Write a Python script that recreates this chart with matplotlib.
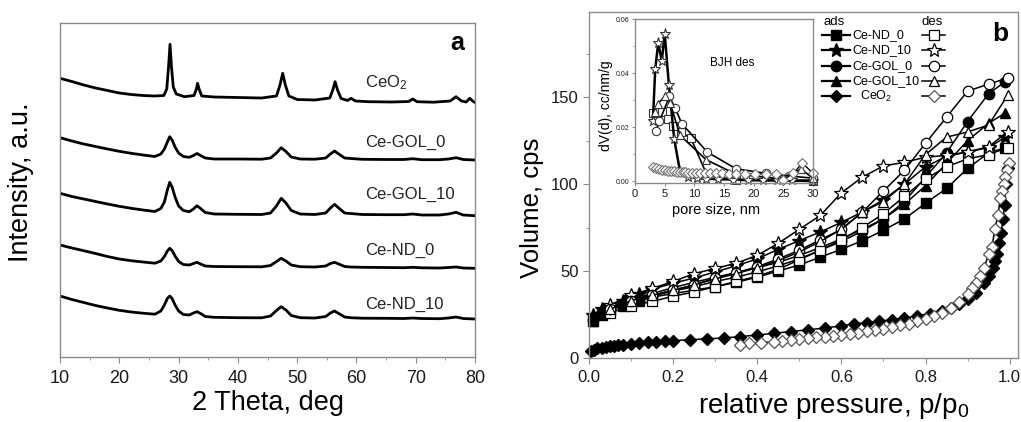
import numpy as np
import matplotlib
matplotlib.use("Agg")
import matplotlib.pyplot as plt
from matplotlib.ticker import MultipleLocator, FormatStrFormatter

plt.rcParams['font.family'] = ['Liberation Sans', 'DejaVu Sans']
plt.rcParams['mathtext.fontset'] = 'custom'
plt.rcParams['mathtext.rm'] = 'Liberation Sans'
plt.rcParams['mathtext.it'] = 'Liberation Sans:italic'

# ---------------- panel a: XRD patterns (offset, arbitrary units) ----------------
two_theta_ceo2 = [10, 12, 14, 16, 18, 20, 22, 24, 26, 27.5, 28.0, 28.3, 28.55, 28.8, 29.1, 29.6,
                  31, 32.6, 33.0, 33.2, 33.45, 33.9, 36, 40, 44, 46.5, 47.1, 47.55, 48.0, 48.6,
                  50, 53, 55.5, 56.0, 56.4, 56.8, 57.4, 58.5, 59.1, 59.8, 62, 66, 68.8, 69.5,
                  70.2, 73, 75.8, 76.8, 77.7, 78.5, 79.1, 79.7, 80]
int_ceo2 = [278.7, 275.5, 272, 269, 266.5, 264, 262.5, 261.5, 261, 261.5, 268, 290, 312.7, 290,
            270, 263, 260.3, 261.5, 268, 273.7, 268, 261, 260, 259.5, 259, 261, 272, 283.7, 272,
            261, 257.5, 257, 259, 267, 275.3, 267, 258.5, 256.5, 258.7, 256, 255.3, 255, 255.5,
            258, 255.3, 254.8, 256, 260.3, 256, 255, 258.7, 255.5, 254.5]

two_theta = [10, 12, 14, 16, 18, 20, 22, 24, 26, 27, 27.6, 28.1, 28.5, 28.9, 29.4, 30, 30.8,
             31.8, 32.5, 33.1, 33.7, 34.5, 36, 40, 44, 45.5, 46.5, 47.3, 48.1, 49, 50.5, 53,
             54.8, 55.6, 56.3, 57, 58, 59, 61, 65, 68, 69.5, 71, 74, 75.5, 76.8, 78, 80]
int_gol_0 = [219.3, 216, 213, 210.5, 208, 205.7, 203.7, 202, 200.5, 203, 208, 215, 220.3, 217,
             210, 204, 200.5, 199.7, 201.5, 203.5, 201.5, 199, 198, 198, 197.8, 199, 204, 209.3,
             205.5, 200, 198, 197.8, 199, 203, 206, 203, 199, 198.5, 197.7, 197.5, 197.5, 198.3,
             197.3, 197.3, 198, 199.3, 197.5, 197]
int_gol_10 = [163.7, 160.5, 158, 155.5, 153, 150.7, 148.7, 147, 145.5, 148.5, 155, 167, 174.7,
              170, 160, 151, 146.5, 145.3, 148, 151.3, 148.5, 144.5, 143, 142.7, 142.5, 144, 151,
              158.7, 154, 146.5, 143, 142.5, 144, 149, 152.7, 149, 144, 143.5, 142.5, 142.3,
              142.3, 143, 142, 142, 143, 144.7, 142, 141.3]
int_nd_0 = [112, 109, 106.3, 103.5, 100.5, 98, 96.3, 95, 93.8, 96, 100.5, 106, 108.7, 106.5, 101,
            95.5, 92.5, 92, 93.5, 94.7, 93, 91, 90.5, 90.3, 90.2, 91.5, 95.5, 98.7, 96, 92, 90.3,
            90, 91, 93.5, 94.7, 93, 90.5, 90, 89.7, 89.5, 89.3, 89.7, 89.2, 89, 89.5, 90, 89, 88.7]
int_nd_10 = [61, 57.5, 54.5, 51.5, 49, 46.7, 45, 43.8, 42.8, 46, 52, 58.5, 61, 58.5, 52, 46,
             42.5, 42, 44, 45.3, 43.5, 40.5, 39.7, 39.3, 39.2, 41, 46.5, 50.3, 47, 41.5, 39.3, 39,
             40.5, 44, 46, 43.5, 40, 39.3, 38.8, 38.7, 38.5, 39, 38.5, 38.3, 39, 40, 38.5, 38]

xrd_names = ['CeO$_2$', 'Ce-GOL_0', 'Ce-GOL_10', 'Ce-ND_0', 'Ce-ND_10']
xrd_label_y = [274, 214.3, 162.7, 107, 53]

# ---------------- panel b: N2 isotherms ----------------
p_ads = [0.01, 0.03, 0.05, 0.08, 0.1, 0.12, 0.15, 0.2, 0.25, 0.3, 0.35, 0.4, 0.45, 0.5, 0.55,
         0.6, 0.65, 0.7, 0.75, 0.8, 0.85, 0.9, 0.95, 0.99]
p_des = [0.995, 0.95, 0.9, 0.85, 0.8, 0.75, 0.7, 0.65, 0.6, 0.55, 0.5, 0.45, 0.4, 0.35, 0.3,
         0.25, 0.2, 0.15, 0.1, 0.05]

nd_0_ads = [21, 25, 27.5, 30, 31.5, 33, 35, 37, 39, 41, 43.5, 46.5, 50, 53.5, 58, 62.5, 67.5,
            73.5, 80, 89, 97.5, 109, 118, 121]
nd_0_des = [121, 117, 114.5, 110, 103, 93, 83, 75, 68, 62, 56.5, 51, 47, 44, 41, 38, 35.5, 32.5,
            30, 26]
nd_10_ads = [25, 28, 30, 33, 35, 37, 39.5, 43, 46, 49.5, 53, 57, 62.5, 67.5, 72.5, 78, 84, 91,
             100, 110, 116, 118.5, 121, 127]
nd_10_des = [130, 121.5, 118.5, 116.5, 115.5, 112.5, 110.5, 104, 95, 82, 74, 66, 59, 54.5, 51.5,
             48.5, 44, 40, 36, 30.5]
gol_0_ads = [22, 26, 28, 30.5, 32, 33.5, 35.5, 38.5, 41, 44, 46.5, 49.5, 53, 57, 62, 67, 73, 80,
             90, 104, 118, 136, 152, 159]
gol_0_des = [161, 157.5, 153.5, 138.5, 123.5, 108, 96, 84, 74, 68, 62, 57, 52.5, 49, 46, 42, 39,
             36, 33, 28]
gol_10_ads = [21, 25.5, 29, 31.5, 33, 35, 37, 40.5, 43.5, 46.5, 49, 52, 55, 59, 63.5, 68.5, 74,
              80, 88.5, 99, 112, 125, 135, 141]
gol_10_des = [151, 134, 130, 127, 117, 100, 90, 84, 74, 67, 61, 56, 52, 48.5, 45.5, 42, 39, 36,
              33, 28]

p_ceo2_ads = [0.005, 0.012, 0.02, 0.03, 0.04, 0.05, 0.06, 0.07, 0.08, 0.1, 0.12, 0.14, 0.16,
              0.18, 0.2, 0.24, 0.28, 0.32, 0.36, 0.4, 0.44, 0.48, 0.52, 0.56, 0.6, 0.63, 0.66,
              0.69, 0.72, 0.75, 0.78, 0.81, 0.84, 0.86, 0.88, 0.9, 0.92, 0.94, 0.95, 0.96, 0.965,
              0.97, 0.975, 0.98, 0.984, 0.988, 0.991, 0.995]
ceo2_ads = [4, 4.8, 5.5, 6, 6.5, 6.8, 7.1, 7.4, 7.6, 8.2, 8.6, 9, 9.4, 9.7, 10, 10.5, 11, 11.5,
            12.3, 13.2, 14.2, 15.2, 16.2, 17.2, 18.5, 19.6, 20.4, 21.2, 22, 23, 24.2, 25.5, 27,
            28.5, 31, 34, 37.5, 43, 47, 52, 56, 60, 66, 72, 80, 88, 100, 109]
p_ceo2_des = [0.998, 0.994, 0.99, 0.986, 0.982, 0.978, 0.972, 0.965, 0.958, 0.95, 0.94, 0.93,
              0.92, 0.91, 0.9, 0.88, 0.86, 0.84, 0.82, 0.8, 0.78, 0.76, 0.74, 0.72, 0.7, 0.68,
              0.66, 0.64, 0.62, 0.6, 0.58, 0.56, 0.54, 0.52, 0.5, 0.48, 0.46, 0.44, 0.41, 0.38,
              0.36]
ceo2_des = [112, 108, 104, 100, 96, 92, 82, 74, 64, 60, 52, 47, 43, 40, 37, 32, 28.5, 26, 24,
            22.5, 21, 19.8, 18.8, 17.8, 16.8, 16, 15.3, 14.6, 14, 13.4, 12.8, 12.3, 11.8, 11.3,
            10.8, 10.3, 9.8, 9.3, 8.8, 8.5, 7.6]

# ---------------- inset: BJH desorption pore size distribution ----------------
d_nd_0 = [3.1, 3.8, 4.5, 5.6, 6.4, 7.7, 9.4, 12.1, 17.1, 30]
psd_nd_0 = [0.0253, 0.0255, 0.0255, 0.0232, 0.0203, 0.0182, 0.016, 0.0025, 0.0004, 0.0]
d_nd_10 = [3.0, 3.4, 3.9, 4.5, 5.0, 5.7, 6.6, 7.6, 9.0, 10.5, 12.0, 14.0, 16.5, 19.0, 21.5,
           24.0, 26.5, 30]
psd_nd_10 = [0.0222, 0.0415, 0.0511, 0.0446, 0.0546, 0.0357, 0.0156, 0.0035, 0.0018, 0.0012,
             0.001, 0.0008, 0.0007, 0.0006, 0.0005, 0.0005, 0.0004, 0.0003]
d_gol_0 = [3.5, 4.1, 5.8, 6.7, 7.9, 12.2, 17.0, 22, 26, 30]
psd_gol_0 = [0.0185, 0.0222, 0.0314, 0.0273, 0.0213, 0.0108, 0.0047, 0.003, 0.002, 0.0012]
d_gol_10 = [3.3, 3.8, 5.0, 5.9, 7.6, 12.0, 17.0, 24.4, 28.0, 30]
psd_gol_10 = [0.0255, 0.0286, 0.0314, 0.029, 0.017, 0.008, 0.0027, 0.001, 0.0045, 0.0012]
d_ceo2 = [3.0, 3.5, 4.0, 4.5, 5.0, 5.5, 6.0, 6.5, 7.0, 7.5, 8.0, 8.5, 9.0, 9.6, 10.3, 11.0, 11.8,
          12.6, 13.6, 14.6, 15.8, 17.1, 18.6, 20.2, 22.0, 23.8, 25.0, 26.7, 28.2, 30]
psd_ceo2 = [0.0053, 0.0048, 0.0045, 0.0043, 0.0041, 0.004, 0.0038, 0.0037, 0.0036, 0.0035,
            0.0034, 0.0034, 0.0033, 0.0033, 0.0032, 0.0032, 0.0031, 0.0031, 0.003, 0.003, 0.0029,
            0.0029, 0.0028, 0.0028, 0.0027, 0.0026, 0.0006, 0.003, 0.0068, 0.003]

legend_names = ['Ce-ND_0', 'Ce-ND_10', 'Ce-GOL_0', 'Ce-GOL_10', 'CeO$_2$']
markers = ['s', '*', 'o', '^', 'D']
msizes = [7, 10, 7.5, 7.5, 6.5]

SPINE = '#8a8a8a'


def style_axes(ax, fs):
    for s in ax.spines.values():
        s.set_color(SPINE)
        s.set_linewidth(1.0)
    ax.tick_params(which='both', direction='out', color=SPINE, labelsize=fs, labelcolor='#1a1a1a')
    ax.tick_params(which='major', length=4)
    ax.tick_params(which='minor', length=2.5)


fig = plt.figure(figsize=(10.21, 4.22), dpi=100)

# ---- panel a ----
ax_a = fig.add_axes([0.0588, 0.154, 0.4065, 0.7915])
ax_a.plot(two_theta_ceo2, int_ceo2, color='k', lw=2.0)
for yy in [int_gol_0, int_gol_10, int_nd_0, int_nd_10]:
    ax_a.plot(two_theta, yy, color='k', lw=2.0)
for name, ly in zip(xrd_names, xrd_label_y):
    ax_a.text(61.5, ly, name, fontsize=12, ha='left', va='center', color='#222222')
ax_a.text(0.956, 0.94, 'a', transform=ax_a.transAxes, fontsize=18, fontweight='bold',
          ha='center', va='center')
ax_a.set_xlim(10, 80)
ax_a.set_ylim(0, 334)
ax_a.set_yticks([])
ax_a.xaxis.set_major_locator(MultipleLocator(10))
ax_a.xaxis.set_minor_locator(MultipleLocator(5))
style_axes(ax_a, 13)
ax_a.tick_params(axis='x', pad=5)
ax_a.set_xlabel('2 Theta, deg', fontsize=19.5)
ax_a.xaxis.set_label_coords(0.5, -0.1)
ax_a.set_ylabel('Intensity, a.u.', fontsize=19.5)
ax_a.yaxis.set_label_coords(-0.063, 0.522)

# ---- panel b ----
ax_b = fig.add_axes([0.5769, 0.1517, 0.4202, 0.8199])
ads_sets = [(p_ads, nd_0_ads), (p_ads, nd_10_ads), (p_ads, gol_0_ads), (p_ads, gol_10_ads),
            (p_ceo2_ads, ceo2_ads)]
des_sets = [(p_des, nd_0_des), (p_des, nd_10_des), (p_des, gol_0_des), (p_des, gol_10_des),
            (p_ceo2_des, ceo2_des)]
for (xx, yy), m, ms in zip(ads_sets, markers, msizes):
    ax_b.plot(xx, yy, color='k', lw=1.1, marker=m, ms=ms, mfc='k', mec='k', clip_on=False)
for i, ((xx, yy), m, ms) in enumerate(zip(des_sets, markers, msizes)):
    ec = '#555555' if i == 4 else 'k'
    ax_b.plot(xx, yy, color='k', lw=1.1, marker=m, ms=ms, mfc='white', mec=ec, mew=0.9,
              clip_on=False)
ax_b.set_xlim(0, 1.02)
ax_b.set_ylim(0, 199)
ax_b.xaxis.set_major_locator(MultipleLocator(0.2))
ax_b.xaxis.set_minor_locator(MultipleLocator(0.1))
ax_b.xaxis.set_major_formatter(FormatStrFormatter('%.1f'))
ax_b.yaxis.set_major_locator(MultipleLocator(50))
ax_b.yaxis.set_minor_locator(MultipleLocator(25))
style_axes(ax_b, 12)
ax_b.tick_params(axis='x', pad=5)
ax_b.set_xlabel('relative pressure, p/p$_0$', fontsize=20)
ax_b.xaxis.set_label_coords(0.57, -0.095)
ax_b.set_ylabel('Volume, cps', fontsize=18.5)
ax_b.yaxis.set_label_coords(-0.105, 0.435)

# custom two-column legend
tr = ax_b.transAxes
ax_b.text(0.571, 0.971, 'ads', transform=tr, fontsize=9.5, ha='center', va='center')
ax_b.text(0.800, 0.971, 'des', transform=tr, fontsize=9.5, ha='center', va='center')
row_y = [0.934, 0.889, 0.845, 0.801, 0.757]
for name, m, ms, ry in zip(legend_names, markers, msizes, row_y):
    ax_b.plot([0.543, 0.608], [ry, ry], transform=tr, color='k', lw=1.6, clip_on=False)
    ax_b.plot([0.576], [ry], transform=tr, marker=m, ms=ms, mfc='k', mec='k', clip_on=False)
    tx = 0.632 if name.startswith('CeO') else 0.615
    ax_b.text(tx, ry, name, transform=tr, fontsize=9, ha='left', va='center')
    ax_b.plot([0.776, 0.830], [ry, ry], transform=tr, color='k', lw=1.1, clip_on=False)
    ax_b.plot([0.803], [ry], transform=tr, marker=m, ms=ms, mfc='white',
              mec='#555555' if name.startswith('CeO') else 'k', mew=0.9, clip_on=False)
ax_b.text(0.958, 0.936, 'b', transform=tr, fontsize=19, fontweight='bold',
          ha='center', va='center')

# ---- inset ----
ax_in = fig.add_axes([0.622, 0.5675, 0.1743, 0.3874])
psd_sets = [(d_nd_0, psd_nd_0, 1.2), (d_nd_10, psd_nd_10, 1.8), (d_gol_0, psd_gol_0, 1.2),
            (d_gol_10, psd_gol_10, 1.2), (d_ceo2, psd_ceo2, 1.0)]
for i, ((xx, yy, lw), m, ms) in enumerate(zip(psd_sets, markers, msizes)):
    ec = '#707070' if i == 4 else '#333333'
    ax_in.plot(xx, yy, color='k', lw=lw, marker=m, ms=ms * 0.8, mfc='white', mec=ec, mew=0.8,
               clip_on=False)
ax_in.set_xlim(0, 30)
ax_in.set_ylim(-0.0004, 0.06)
ax_in.xaxis.set_major_locator(MultipleLocator(5))
ax_in.yaxis.set_major_locator(MultipleLocator(0.02))
ax_in.yaxis.set_minor_locator(MultipleLocator(0.01))
ax_in.yaxis.set_major_formatter(FormatStrFormatter('%.2f'))
style_axes(ax_in, 8)
ax_in.tick_params(which='major', length=2.5, pad=2)
ax_in.tick_params(which='minor', length=1.5)
ax_in.tick_params(axis='y', labelsize=5, pad=1.5)
ax_in.text(16.3, 0.0439, 'BJH des', fontsize=8.5, ha='center', va='center')
ax_in.set_xlabel('pore size, nm', fontsize=10.5)
ax_in.xaxis.set_label_coords(0.455, -0.128)
ax_in.set_ylabel('dV(d), cc/nm/g', fontsize=10)
ax_in.yaxis.set_label_coords(-0.125, 0.468)

fig.savefig('out.png', dpi=100)
